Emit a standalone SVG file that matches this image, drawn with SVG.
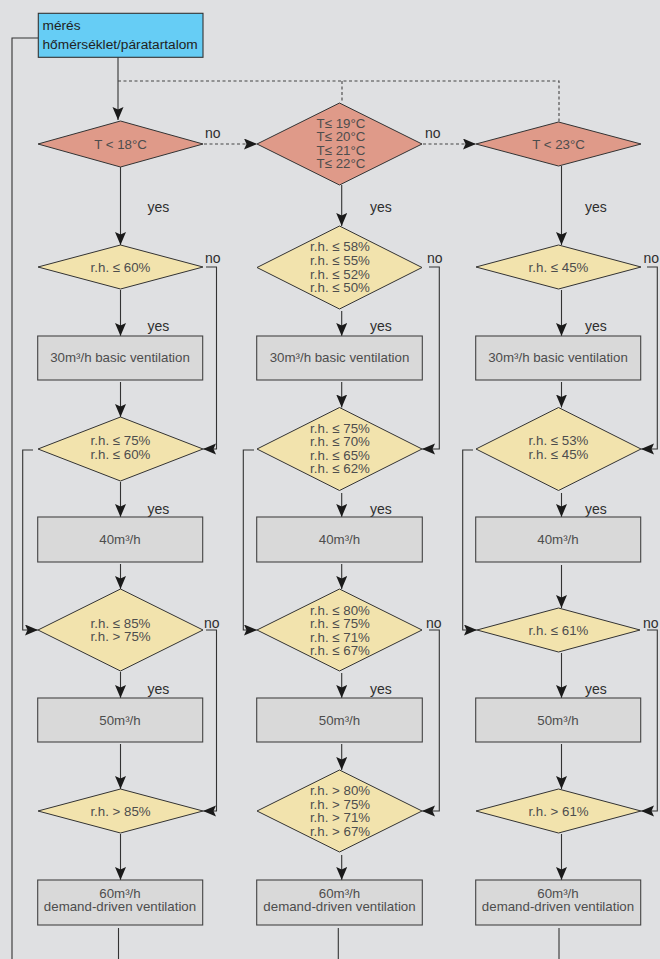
<svg xmlns="http://www.w3.org/2000/svg" width="660" height="959" viewBox="0 0 660 959">
<style>
.bg{fill:#dfe0e2}
.ln{fill:none;stroke:#333;stroke-width:1.1}
.ds{fill:none;stroke:#444;stroke-width:1.1;stroke-dasharray:3 2.5}
.red{fill:#df9a89;stroke:#333;stroke-width:1}
.yel{fill:#f2e3ad;stroke:#333;stroke-width:1}
.box{fill:#d9d9d9;stroke:#444;stroke-width:1.1}
.blue{fill:#66cdf5;stroke:#333;stroke-width:1.1}
.t{font-family:"Liberation Sans",Arial,sans-serif;font-size:13.3px;fill:#4d4d4d;text-anchor:middle}
.lb{font-family:"Liberation Sans",Arial,sans-serif;font-size:14px;fill:#2e2e2e}
.hd{font-family:"Liberation Sans",Arial,sans-serif;font-size:13.7px;fill:#222}
</style>
<defs>
<marker id="ah" markerUnits="userSpaceOnUse" markerWidth="14" markerHeight="12" refX="13" refY="5.5" orient="auto">
<path d="M0,0 L13,5.5 L0,11 L2.5,5.5 z" fill="#1a1a1a"/>
</marker>
</defs>
<rect class="bg" x="0" y="0" width="660" height="959"/>

<g id="connectors">
<polyline class="ln" points="38,38 12,38 12,959"/>
<line class="ln" x1="118" y1="57" x2="118" y2="120" marker-end="url(#ah)"/>
<polyline class="ds" points="118,81 559,81 559,122"/>
<line class="ds" x1="342" y1="81" x2="342" y2="103"/>
<line class="ds" x1="204" y1="144" x2="257" y2="144" marker-end="url(#ah)"/>
<line class="ds" x1="423" y1="144" x2="476" y2="144" marker-end="url(#ah)"/>

<line class="ln" x1="120.5" y1="167" x2="120.5" y2="245" marker-end="url(#ah)"/>
<line class="ln" x1="120.5" y1="290" x2="120.5" y2="336" marker-end="url(#ah)"/>
<line class="ln" x1="120.5" y1="382" x2="120.5" y2="417" marker-end="url(#ah)"/>
<line class="ln" x1="120.5" y1="482" x2="120.5" y2="517" marker-end="url(#ah)"/>
<line class="ln" x1="120.5" y1="564" x2="120.5" y2="589" marker-end="url(#ah)"/>
<line class="ln" x1="120.5" y1="672" x2="120.5" y2="698" marker-end="url(#ah)"/>
<line class="ln" x1="120.5" y1="744" x2="120.5" y2="789" marker-end="url(#ah)"/>
<line class="ln" x1="120.5" y1="834" x2="120.5" y2="880" marker-end="url(#ah)"/>
<line class="ln" x1="118.5" y1="928" x2="118.5" y2="959"/>
<polyline class="ln" points="206,267 216.5,267 216.5,449 203,449" marker-end="url(#ah)"/>
<polyline class="ln" points="206,630 216.5,630 216.5,811 203,811" marker-end="url(#ah)"/>
<polyline class="ln" points="33,450 22.7,450 22.7,630 38,630" marker-end="url(#ah)"/>

<line class="ln" x1="341.7" y1="185" x2="341.7" y2="226" marker-end="url(#ah)"/>
<line class="ln" x1="341.7" y1="311" x2="341.7" y2="336" marker-end="url(#ah)"/>
<line class="ln" x1="341.7" y1="382" x2="341.7" y2="407.5" marker-end="url(#ah)"/>
<line class="ln" x1="341.7" y1="493" x2="341.7" y2="517" marker-end="url(#ah)"/>
<line class="ln" x1="341.7" y1="564" x2="341.7" y2="589" marker-end="url(#ah)"/>
<line class="ln" x1="341.7" y1="673" x2="341.7" y2="698" marker-end="url(#ah)"/>
<line class="ln" x1="341.7" y1="744" x2="341.7" y2="770" marker-end="url(#ah)"/>
<line class="ln" x1="341.7" y1="855" x2="341.7" y2="880" marker-end="url(#ah)"/>
<line class="ln" x1="338.3" y1="928" x2="338.3" y2="959"/>
<polyline class="ln" points="429,267 439.3,267 439.3,449 422,449" marker-end="url(#ah)"/>
<polyline class="ln" points="429,630 439.3,630 439.3,811 422,811" marker-end="url(#ah)"/>
<polyline class="ln" points="254,450 243.3,450 243.3,630 257,630" marker-end="url(#ah)"/>

<line class="ln" x1="561.5" y1="166" x2="561.5" y2="245" marker-end="url(#ah)"/>
<line class="ln" x1="561.5" y1="290" x2="561.5" y2="336" marker-end="url(#ah)"/>
<line class="ln" x1="561.5" y1="382" x2="561.5" y2="407.5" marker-end="url(#ah)"/>
<line class="ln" x1="561.5" y1="493" x2="561.5" y2="517" marker-end="url(#ah)"/>
<line class="ln" x1="561.5" y1="565" x2="561.5" y2="608" marker-end="url(#ah)"/>
<line class="ln" x1="561.5" y1="653" x2="561.5" y2="698" marker-end="url(#ah)"/>
<line class="ln" x1="561.5" y1="744" x2="561.5" y2="789" marker-end="url(#ah)"/>
<line class="ln" x1="561.5" y1="834" x2="561.5" y2="880" marker-end="url(#ah)"/>
<line class="ln" x1="559" y1="928" x2="559" y2="959"/>
<polyline class="ln" points="647,267 657.3,267 657.3,449 641,449" marker-end="url(#ah)"/>
<polyline class="ln" points="647,630 657.3,630 657.3,811 641,811" marker-end="url(#ah)"/>
<polyline class="ln" points="473,450 462.7,450 462.7,630 477,630" marker-end="url(#ah)"/>

<text class="lb" x="205" y="138">no</text>
<text class="lb" x="425" y="138">no</text>
<text class="lb" x="147.5" y="212">yes</text>
<text class="lb" x="370" y="212">yes</text>
<text class="lb" x="585" y="212">yes</text>
<text class="lb" x="205" y="263">no</text>
<text class="lb" x="427" y="263">no</text>
<text class="lb" x="643.5" y="263">no</text>
<text class="lb" x="147.5" y="331">yes</text>
<text class="lb" x="370" y="331">yes</text>
<text class="lb" x="585" y="331">yes</text>
<text class="lb" x="147.5" y="514">yes</text>
<text class="lb" x="370" y="514">yes</text>
<text class="lb" x="585" y="514">yes</text>
<text class="lb" x="204" y="628">no</text>
<text class="lb" x="426" y="628">no</text>
<text class="lb" x="643" y="628">no</text>
<text class="lb" x="147.5" y="694">yes</text>
<text class="lb" x="370" y="694">yes</text>
<text class="lb" x="585" y="694">yes</text>
</g>

<g id="start">
<rect class="blue" x="38.3" y="13.3" width="164.7" height="44"/>
<text class="hd" x="42.5" y="30">mérés</text>
<text class="hd" x="42.5" y="49">hőmérséklet/páratartalom</text>
</g>

<g id="t1"><polygon class="red" points="38,144 120.5,121 203,144 120.5,167"/>
<text class="t" x="120.5" y="148.5">T &lt; 18°C</text></g>
<g id="t2"><polygon class="red" points="257,144 339.5,103 422,144 339.5,185"/>
<text class="t" x="341" y="127.5">T≤ 19°C</text><text class="t" x="341" y="141">T≤ 20°C</text><text class="t" x="341" y="154.5">T≤ 21°C</text><text class="t" x="341" y="168">T≤ 22°C</text></g>
<g id="t3"><polygon class="red" points="476,144 558.5,122 641,144 558.5,166"/>
<text class="t" x="558.5" y="148.5">T &lt; 23°C</text></g>

<g id="c1r1"><polygon class="yel" points="38,267 120.5,245 203,267 120.5,289"/>
<text class="t" x="120.5" y="271.5">r.h. ≤ 60%</text></g>
<g id="c2r1"><polygon class="yel" points="257,267.5 339.5,226 422,267.5 339.5,309"/>
<text class="t" x="340" y="251">r.h. ≤ 58%</text><text class="t" x="340" y="265">r.h. ≤ 55%</text><text class="t" x="340" y="278.5">r.h. ≤ 52%</text><text class="t" x="340" y="292">r.h. ≤ 50%</text></g>
<g id="c3r1"><polygon class="yel" points="476,267 558.5,245 641,267 558.5,289"/>
<text class="t" x="558.5" y="271.5">r.h. ≤ 45%</text></g>

<g id="c1b1"><rect class="box" x="37.7" y="336" width="165" height="44"/><text class="t" x="120" y="362">30m³/h basic ventilation</text></g>
<g id="c2b1"><rect class="box" x="256.7" y="336" width="165.6" height="44"/><text class="t" x="339.5" y="362">30m³/h basic ventilation</text></g>
<g id="c3b1"><rect class="box" x="475.7" y="336" width="165" height="44"/><text class="t" x="558" y="362">30m³/h basic ventilation</text></g>

<g id="c1r2"><polygon class="yel" points="38,449 120.5,417 203,449 120.5,481"/>
<text class="t" x="120.5" y="444.5">r.h. ≤ 75%</text><text class="t" x="120.5" y="458.5">r.h. ≤ 60%</text></g>
<g id="c2r2"><polygon class="yel" points="257,449 339.5,407.5 422,449 339.5,490.5"/>
<text class="t" x="340" y="432.5">r.h. ≤ 75%</text><text class="t" x="340" y="446">r.h. ≤ 70%</text><text class="t" x="340" y="459.5">r.h. ≤ 65%</text><text class="t" x="340" y="473">r.h. ≤ 62%</text></g>
<g id="c3r2"><polygon class="yel" points="476,449 558.5,407.5 641,449 558.5,490.5"/>
<text class="t" x="558.5" y="445">r.h. ≤ 53%</text><text class="t" x="558.5" y="459">r.h. ≤ 45%</text></g>

<g id="c1b2"><rect class="box" x="37.7" y="517" width="165" height="45"/><text class="t" x="120" y="543.5">40m³/h</text></g>
<g id="c2b2"><rect class="box" x="256.7" y="517" width="165.6" height="45"/><text class="t" x="339.5" y="543.5">40m³/h</text></g>
<g id="c3b2"><rect class="box" x="475.7" y="517" width="165" height="45"/><text class="t" x="558" y="543.5">40m³/h</text></g>

<g id="c1r3"><polygon class="yel" points="38,630 120.5,589 203,630 120.5,671"/>
<text class="t" x="120.5" y="627.5">r.h. ≤ 85%</text><text class="t" x="120.5" y="641">r.h. &gt; 75%</text></g>
<g id="c2r3"><polygon class="yel" points="257,630 339.5,589 422,630 339.5,671"/>
<text class="t" x="340" y="614.5">r.h. ≤ 80%</text><text class="t" x="340" y="628">r.h. ≤ 75%</text><text class="t" x="340" y="641.5">r.h. ≤ 71%</text><text class="t" x="340" y="655">r.h. ≤ 67%</text></g>
<g id="c3r3"><polygon class="yel" points="477,630 558.5,608 640,630 558.5,652"/>
<text class="t" x="558.5" y="634.5">r.h. ≤ 61%</text></g>

<g id="c1b3"><rect class="box" x="37.7" y="698" width="165" height="44"/><text class="t" x="120" y="724.5">50m³/h</text></g>
<g id="c2b3"><rect class="box" x="256.7" y="698" width="165.6" height="44"/><text class="t" x="339.5" y="724.5">50m³/h</text></g>
<g id="c3b3"><rect class="box" x="475.7" y="698" width="165" height="44"/><text class="t" x="558" y="724.5">50m³/h</text></g>

<g id="c1r4"><polygon class="yel" points="38,811 120.5,789 203,811 120.5,833"/>
<text class="t" x="120.5" y="815.5">r.h. &gt; 85%</text></g>
<g id="c2r4"><polygon class="yel" points="257,811 339.5,770 422,811 339.5,852"/>
<text class="t" x="340" y="795">r.h. &gt; 80%</text><text class="t" x="340" y="808.5">r.h. &gt; 75%</text><text class="t" x="340" y="822">r.h. &gt; 71%</text><text class="t" x="340" y="835.5">r.h. &gt; 67%</text></g>
<g id="c3r4"><polygon class="yel" points="476,811 558.5,789 641,811 558.5,833"/>
<text class="t" x="558.5" y="815.5">r.h. &gt; 61%</text></g>

<g id="c1b4"><rect class="box" x="37.7" y="880" width="165" height="45"/><text class="t" x="120" y="897.5">60m³/h</text><text class="t" x="120" y="911">demand-driven ventilation</text></g>
<g id="c2b4"><rect class="box" x="256.7" y="880" width="165.6" height="45"/><text class="t" x="339.5" y="897.5">60m³/h</text><text class="t" x="339.5" y="911">demand-driven ventilation</text></g>
<g id="c3b4"><rect class="box" x="475.7" y="880" width="165" height="45"/><text class="t" x="558" y="911" dy="-13.5">60m³/h</text><text class="t" x="558" y="911">demand-driven ventilation</text></g>
</svg>
